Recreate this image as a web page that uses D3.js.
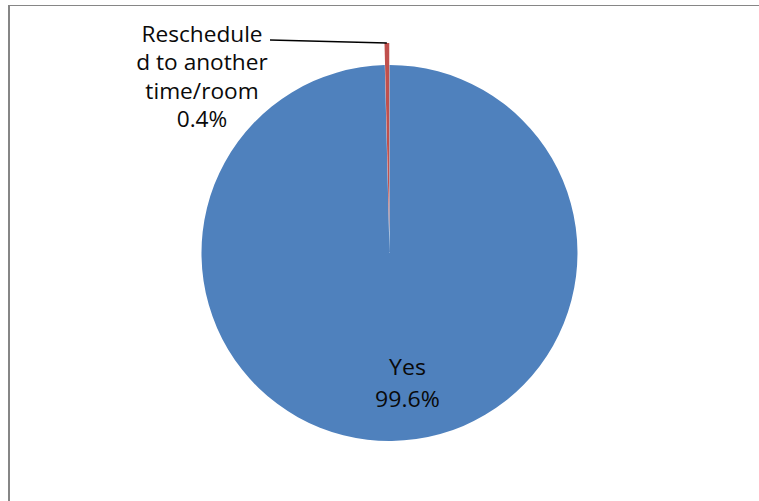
<!DOCTYPE html>
<html>
<head>
<meta charset="utf-8">
<script src="https://cdn.jsdelivr.net/npm/d3@7"></script>
<style>
  html, body { margin: 0; padding: 0; background: #fff; }
  svg { display: block; }
  text { font-family: "Open Sans", "Liberation Sans", sans-serif; fill: #0a0a0a; }
</style>
</head>
<body>
<svg id="chart" width="759" height="501"></svg>
<script>
// Share of sessions by outcome (percent)
const categories = ["Yes", "Rescheduled to another time/room"];
const values = [99.6, 0.4];
const colors = ["#4F81BD", "#C0504D"];
// Label text as wrapped in the chart
const labelLines = [["Yes"], ["Reschedule", "d to another", "time/room"]];

const width = 759, height = 501;
const cx = 389.5, cy = 253, radius = 188;
const explode = [0, 22];           // radial pull-out per slice
const fmt = d3.format(".1%");

const svg = d3.select("#chart");

// chart frame (left and top edges)
svg.append("line").attr("x1", 9).attr("y1", 5.5).attr("x2", width).attr("y2", 5.5)
  .attr("stroke", "#868686").attr("stroke-width", 1);
svg.append("line").attr("x1", 9).attr("y1", 5).attr("x2", 9).attr("y2", height)
  .attr("stroke", "#868686").attr("stroke-width", 2);

const data = categories.map((c, i) => ({ category: c, value: values[i], index: i }));

const pie = d3.pie().value(d => d.value).sort(null).startAngle(0).endAngle(2 * Math.PI);
const arcs = pie(data);
const arc = d3.arc().innerRadius(0).outerRadius(radius);

const g = svg.append("g").attr("transform", `translate(${cx},${cy})`);

function offsetOf(a) {
  const mid = (a.startAngle + a.endAngle) / 2;
  const o = explode[a.index];
  return [Math.sin(mid) * o, -Math.cos(mid) * o];
}

g.selectAll("path.slice")
  .data(arcs)
  .join("path")
  .attr("class", "slice")
  .attr("transform", d => { const [dx, dy] = offsetOf(d); return `translate(${dx},${dy})`; })
  .attr("d", arc)
  .attr("fill", (d, i) => colors[i]);

const fontSize = 22;
const lineH = 28.5;

// "Yes" label inside the large slice
const yes = arcs[0];
const yesLabel = g.append("text")
  .attr("text-anchor", "middle")
  .attr("font-size", fontSize)
  .attr("transform", "translate(18,122) scale(1.05,1)");
labelLines[0].concat([fmt(yes.data.value / 100)]).forEach((t, k) => {
  yesLabel.append("tspan").attr("x", 0).attr("y", k * 32).text(t);
});

// outside label for the small slice, with leader line
const small = arcs[1];
const [sdx, sdy] = offsetOf(small);
const tipAngle = (small.startAngle + small.endAngle) / 2;
const tip = [cx + sdx + Math.sin(tipAngle) * radius, cy + sdy - Math.cos(tipAngle) * radius];

const lbl = svg.append("text")
  .attr("text-anchor", "middle")
  .attr("font-size", fontSize)
  .attr("transform", "translate(202,41.7) scale(1.03,1)");
labelLines[1].concat([fmt(small.data.value / 100)]).forEach((t, k) => {
  lbl.append("tspan").attr("x", 0).attr("y", k * lineH).text(t);
});

svg.append("path")
  .attr("d", d3.line()([[270, 40], tip]))
  .attr("stroke", "#000")
  .attr("stroke-width", 1.5)
  .attr("fill", "none");
</script>
</body>
</html>
